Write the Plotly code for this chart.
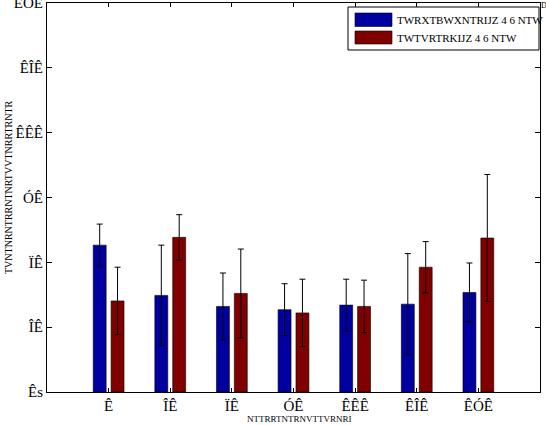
import plotly.graph_objects as go

categories = ["Ê", "ÎÊ", "ÏÊ", "ÓÊ", "ÊÊÊ", "ÊÎÊ", "ÊÓÊ"]
series1_name = "TWRXTBWXNTRIJZ 4 6 NTW"
series2_name = "TWTVRTRKIJZ 4 6 NTW"
series1_values = [45.3, 29.8, 26.4, 25.4, 26.8, 27.1, 30.7]
series1_errors = [6.5, 15.5, 10.3, 8.0, 8.0, 15.6, 9.1]
series2_values = [28.1, 47.7, 30.4, 24.4, 26.4, 38.5, 47.5]
series2_errors = [10.4, 7.0, 13.7, 10.4, 8.1, 7.9, 19.6]
y_tick_values = [0, 20, 40, 60, 80, 100, 120]
y_tick_labels = ["Ês", "ÎÊ", "ÏÊ", "ÓÊ", "ÊÊÊ", "ÊÎÊ", "ÊÓÊ"]
x_title = "NTTRRTNTRNVTTVRNRI"
y_title = "TVNTNRNTRRNTNRTVVTNRRTRNTR"

blue = "#0000a0"
red = "#800000"

fig = go.Figure()
fig.add_trace(go.Bar(
    x=categories, y=series1_values, name=series1_name,
    width=0.21, offset=-0.25,
    marker=dict(color=blue, line=dict(color="#000000", width=0.6)),
    error_y=dict(type="data", array=series1_errors, color="#000000", thickness=1, width=3),
    showlegend=False,
))
fig.add_trace(go.Bar(
    x=categories, y=series2_values, name=series2_name,
    width=0.21, offset=0.04,
    marker=dict(color=red, line=dict(color="#000000", width=0.6)),
    error_y=dict(type="data", array=series2_errors, color="#000000", thickness=1, width=3),
    showlegend=False,
))

serif = "Liberation Serif"

fig.update_layout(
    width=546, height=425,
    margin=dict(l=47, r=6, t=3, b=33),
    paper_bgcolor="white", plot_bgcolor="white",
    barmode="overlay",
    xaxis=dict(
        type="category", range=[-1, 7], automargin=False,
        showline=True, linecolor="black", linewidth=1, mirror="ticks",
        ticks="inside", ticklen=4, tickcolor="black",
        showgrid=False, zeroline=False,
        tickfont=dict(family=serif, size=15, color="black"),
    ),
    yaxis=dict(
        range=[0, 120], tickvals=y_tick_values, ticktext=y_tick_labels, automargin=False,
        showline=True, linecolor="black", linewidth=1, mirror="ticks",
        ticks="inside", ticklen=5, tickcolor="black",
        showgrid=False, zeroline=False, ticklabeloverflow="allow",
        tickfont=dict(family=serif, size=15, color="black"),
    ),
)

def px_x(p):
    return (p - 47) / 493

def px_y(p):
    return (392 - p) / 389

# x/y titles
fig.add_annotation(xref="paper", yref="paper", x=px_x(299), y=px_y(419),
                   text=x_title, showarrow=False, xanchor="center", yanchor="middle",
                   font=dict(family=serif, size=9, color="black"))
fig.add_annotation(xref="paper", yref="paper", x=px_x(8), y=px_y(187),
                   text=y_title, showarrow=False, textangle=-90, xanchor="center", yanchor="middle",
                   font=dict(family=serif, size=10, color="black"))

# legend (drawn manually to match wide swatches)
fig.add_shape(type="rect", xref="paper", yref="paper",
              x0=px_x(348), x1=px_x(539), y0=px_y(50), y1=px_y(7),
              line=dict(color="black", width=1), fillcolor="white")
for (y0, y1, col, name) in [(13, 26.5, blue, series1_name), (31, 44, red, series2_name)]:
    fig.add_shape(type="rect", xref="paper", yref="paper",
                  x0=px_x(355), x1=px_x(392), y0=px_y(y1), y1=px_y(y0),
                  line=dict(color="black", width=0.6), fillcolor=col)
    fig.add_annotation(xref="paper", yref="paper", x=px_x(395), y=px_y((y0 + y1) / 2),
                       text=name, showarrow=False, xanchor="left", yanchor="middle",
                       font=dict(family=serif, size=11, color="black"))

fig.add_annotation(xref="paper", yref="paper", x=px_x(540), y=px_y(0),
                   text="D", showarrow=False, xanchor="left", yanchor="top",
                   borderpad=0, font=dict(family=serif, size=8, color="black"))

fig.write_html("out.html")
